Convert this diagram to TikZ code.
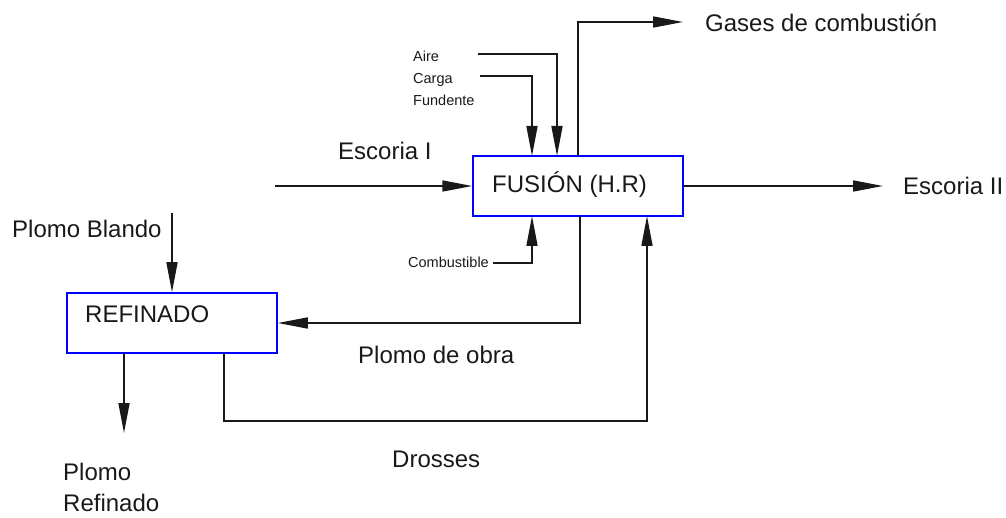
\documentclass[tikz,border=0pt]{standalone}
\usepackage{fontspec}
\setmainfont{Liberation Sans}
\usetikzlibrary{arrows.meta}
\tikzset{
  flow/.style={draw=black!90, line width=1.6pt},
  arr/.style={flow, -{Triangle[length=30pt,width=11pt]}},
  procbox/.style={draw=blue, line width=1.5pt, minimum width=210pt, minimum height=60pt, inner sep=0pt},
  biglbl/.style={anchor=base west, inner sep=0pt, font=\fontsize{24}{28}\selectfont, text=black!90},
  smalllbl/.style={anchor=base west, inner sep=0pt, font=\fontsize{14.5}{17}\selectfont, text=black!90}
}
\begin{document}
\begin{tikzpicture}[x=1pt,y=-1pt]
\useasboundingbox (0,0) rectangle (1006,518);
% boxes
\node[procbox] (fusion) at (578,186) {};
\node[procbox] (refinado) at (172,323) {};
\node[biglbl] (tfusion) at (492,193) {FUSIÓN (H.R)};
\node[biglbl] (trefinado) at (85,323) {REFINADO};
% labels
\node[biglbl] (tgases) at (705,32) {Gases de combustión};
\node[smalllbl] (taire) at (413,62) {Aire};
\node[smalllbl] (tcarga) at (413,84) {Carga};
\node[smalllbl] (tfund) at (413,106) {Fundente};
\node[biglbl] (tesc1) at (338,160) {Escoria I};
\node[biglbl] (tesc2) at (903,195) {Escoria II};
\node[biglbl] (tblando) at (12,238) {Plomo Blando};
\node[smalllbl] (tcomb) at (408,268) {Combustible};
\node[biglbl] (tobra) at (358,363) {Plomo de obra};
\node[biglbl] (tdross) at (392,467) {Drosses};
\node[biglbl] (tplomo) at (63,480) {Plomo};
\node[biglbl] (trefd) at (63,511) {Refinado};
% coordinates
\coordinate (gasEnd) at (683,22);
\coordinate (aireStart) at (478,54);
\coordinate (aireIn) at (557,156);
\coordinate (cargaStart) at (480,76);
\coordinate (cargaIn) at (532,156);
\coordinate (combStart) at (493,263);
\coordinate (combIn) at (532,216);
\coordinate (esc1Start) at (275,186);
\coordinate (esc2End) at (883,186);
\coordinate (obraOut) at (580,216);
\coordinate (drossOut) at (224,353);
\coordinate (drossCorner) at (647,421);
\coordinate (drossIn) at (647,216);
\coordinate (blandoStart) at (172,213);
\coordinate (refOut) at (124,353);
\coordinate (refEnd) at (124,433);
% connectors
\draw[arr] (fusion.north) |- (gasEnd);
\draw[arr] (aireStart) -| (aireIn);
\draw[arr] (cargaStart) -| (cargaIn);
\draw[arr] (combStart) -| (combIn);
\draw[arr] (esc1Start) -- (fusion.west);
\draw[arr] (fusion.east) -- (esc2End);
\draw[arr] (obraOut) |- (refinado.east);
\draw[arr] (drossOut) |- (drossCorner) -- (drossIn);
\draw[arr] (blandoStart) -- (refinado.north);
\draw[arr] (refOut) -- (refEnd);
\end{tikzpicture}
\end{document}
